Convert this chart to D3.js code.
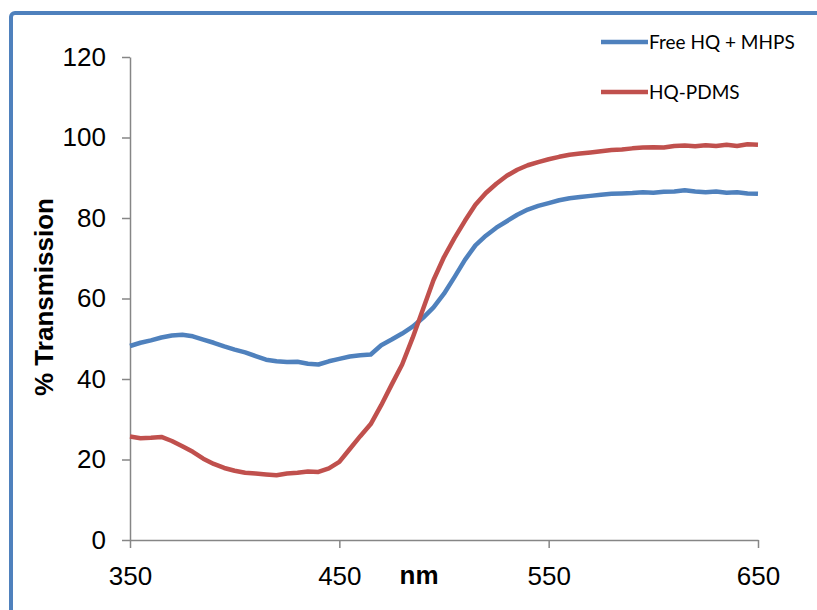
<!DOCTYPE html>
<html><head><meta charset="utf-8">
<script src="https://cdn.jsdelivr.net/npm/d3@7"></script>
<style>body{margin:0;background:#fff}svg{display:block}</style>
</head><body><svg id="c" width="817" height="610"></svg>
<script>
const wavelengths = [350,355,360,365,370,375,380,385,390,395,400,405,410,415,420,425,430,435,440,445,450,455,460,465,470,475,480,485,490,495,500,505,510,515,520,525,530,535,540,545,550,555,560,565,570,575,580,585,590,595,600,605,610,615,620,625,630,635,640,645,650];
const freeHQ = [48.2,49.0,49.6,50.3,50.8,51.0,50.6,49.8,49.0,48.1,47.3,46.6,45.7,44.8,44.4,44.2,44.3,43.8,43.6,44.4,45.0,45.6,45.9,46.1,48.4,49.8,51.3,53.0,55.2,57.8,61.2,65.3,69.6,73.2,75.6,77.6,79.2,80.8,82.1,83.0,83.7,84.4,84.9,85.2,85.5,85.8,86.0,86.1,86.2,86.4,86.3,86.5,86.6,86.9,86.6,86.4,86.6,86.3,86.4,86.1,86.0];
const hqPDMS = [25.7,25.3,25.4,25.6,24.6,23.3,21.9,20.2,18.9,17.9,17.2,16.7,16.5,16.3,16.1,16.5,16.7,17.0,16.9,17.8,19.4,22.6,25.8,28.8,33.5,38.6,43.6,50.2,57.4,64.6,70.3,75.0,79.3,83.3,86.2,88.5,90.5,92.0,93.1,93.9,94.6,95.2,95.7,96.0,96.3,96.6,96.9,97.0,97.3,97.5,97.6,97.5,97.9,98.0,97.8,98.1,97.9,98.2,97.9,98.3,98.2];
const seriesNames = ["Free HQ + MHPS","HQ-PDMS"];
const xTicks = [350,450,550,650];
const yTicks = [0,20,40,60,80,100,120];

const svg = d3.select("#c");
const blue = "#4F81BD", red = "#C0504D", axisCol = "#868686";
const fontNum = "'Liberation Sans', Arial, sans-serif";

// frame
svg.append("rect").attr("x",11).attr("y",13).attr("width",900).attr("height",700)
  .attr("rx",4).attr("fill","none").attr("stroke",blue).attr("stroke-width",4);

const x = d3.scaleLinear().domain([350,650]).range([130,758]);
const y = d3.scaleLinear().domain([0,120]).range([540,57]);

// axes
const gy = svg.append("g").attr("transform","translate(130,0)")
  .call(d3.axisLeft(y).tickValues(yTicks).tickSize(8).tickPadding(16).tickSizeOuter(0));
const gx = svg.append("g").attr("transform","translate(0,540)")
  .call(d3.axisBottom(x).tickValues(xTicks).tickSize(8).tickPadding(14).tickSizeOuter(0));
[gy,gx].forEach(g=>{
  g.selectAll("path,line").attr("stroke",axisCol).attr("stroke-width",1.5);
  g.selectAll("text").attr("fill","#000").attr("font-family",fontNum).attr("font-size",26);
});
gx.selectAll("text").attr("dy","0.9em");

// titles
svg.append("text").attr("transform","translate(53,297) rotate(-90)")
  .attr("text-anchor","middle").attr("font-family",fontNum).attr("font-weight","bold")
  .attr("font-size",26).text("% Transmission");
svg.append("text").attr("x",419).attr("y",584).attr("text-anchor","middle")
  .attr("font-family",fontNum).attr("font-weight","bold").attr("font-size",26).text("nm");

// lines
const data = [freeHQ, hqPDMS];
const colors = [blue, red];
const line = d3.line().x((d,i)=>x(wavelengths[i])).y(d=>y(d)).curve(d3.curveLinear);
data.forEach((s,k)=>{
  svg.append("path").datum(s).attr("d",line).attr("fill","none")
    .attr("stroke",colors[k]).attr("stroke-width",4.5).attr("stroke-linejoin","round");
});

// legend
seriesNames.forEach((n,k)=>{
  const ly = 42 + k*50;
  svg.append("line").attr("x1",601).attr("x2",648).attr("y1",ly).attr("y2",ly)
    .attr("stroke",colors[k]).attr("stroke-width",4.5);
  svg.append("text").attr("x",649).attr("y",ly+7).attr("font-family","Lato, 'Open Sans', sans-serif")
    .attr("font-size",19).attr("fill","#000").text(n);
});
</script></body></html>
